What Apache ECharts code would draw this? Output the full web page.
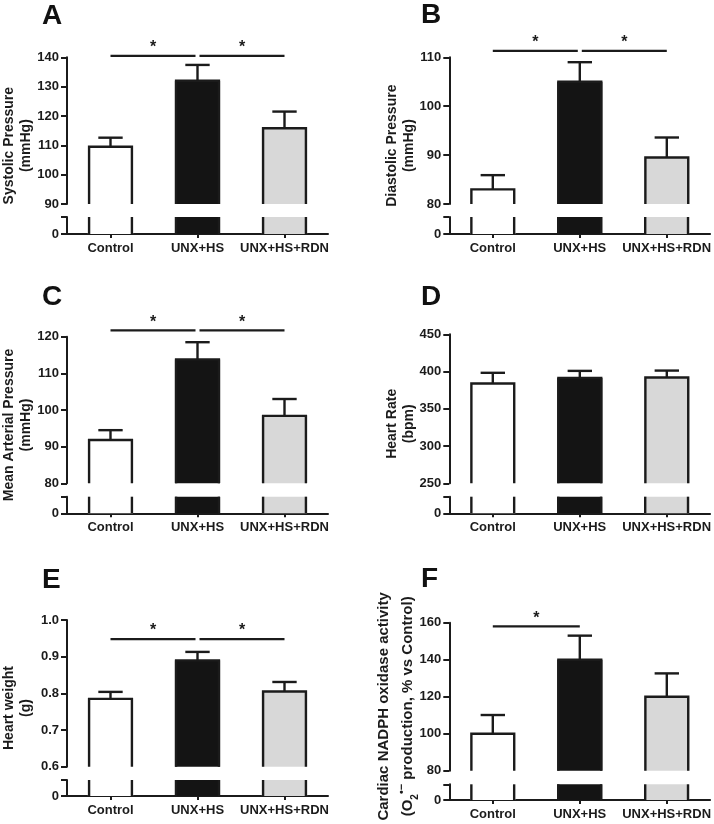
<!DOCTYPE html>
<html><head><meta charset="utf-8">
<script src="https://cdn.jsdelivr.net/npm/echarts@6/dist/echarts.min.js"></script>
<style>html,body{margin:0;padding:0;background:#fff}#c{width:714px;height:824px}</style>
</head><body><div id="c"></div>
<script>
// ---------------- data ----------------
const categories = ['Control', 'UNX+HS', 'UNX+HS+RDN'];

const systolicMean = [109.5, 132.0, 115.8];
const systolicSem  = [3.1, 5.4, 5.7];
const systolicTicks = [90, 100, 110, 120, 130, 140];
const systolicSig = [[0, 1, 140.5], [1, 2, 140.5]];

const diastolicMean = [83.0, 105.0, 89.5];
const diastolicSem  = [2.9, 4.0, 4.1];
const diastolicTicks = [80, 90, 100, 110];
const diastolicSig = [[0, 1, 111.3], [1, 2, 111.3]];

const mapMean = [91.8, 113.8, 98.4];
const mapSem  = [2.7, 4.7, 4.6];
const mapTicks = [80, 90, 100, 110, 120];
const mapSig = [[0, 1, 121.7], [1, 2, 121.7]];

const hrMean = [384, 391.5, 392];
const hrSem  = [14.3, 9.4, 9.3];
const hrTicks = [250, 300, 350, 400, 450];
const hrSig = [];

const hwMean = [0.785, 0.890, 0.805];
const hwSem  = [0.019, 0.023, 0.026];
const hwTicks = [0.6, 0.7, 0.8, 0.9, 1.0];
const hwSig = [[0, 1, 0.948], [1, 2, 0.948]];

const noxMean = [100, 140, 120];
const noxSem  = [10.1, 13.0, 12.6];
const noxTicks = [80, 100, 120, 140, 160];
const noxSig = [[0, 1, 158]];

const lowerTickLabel = 0;

// ---------------- styling / layout ----------------
const ink = '#1b1b1b';
const fills = ['#ffffff', '#141414', '#d8d8d8'];
const FONT = '"Liberation Sans", Arial, Helvetica, sans-serif';

const panels = [
  {letter: 'A', mean: systolicMean, sem: systolicSem, ticks: systolicTicks, sig: systolicSig, dec: 0,
   name: 'Systolic Pressure\n(mmHg)', ax: 67, top: 57.3, ub: 204, lt: 217, zero: 234, lx: 42, ly: 16.5, nx: 18},
  {letter: 'B', mean: diastolicMean, sem: diastolicSem, ticks: diastolicTicks, sig: diastolicSig, dec: 0,
   name: 'Diastolic Pressure\n(mmHg)', ax: 449.3, top: 57.3, ub: 204, lt: 217, zero: 234, lx: 421, ly: 15, nx: 401},
  {letter: 'C', mean: mapMean, sem: mapSem, ticks: mapTicks, sig: mapSig, dec: 0,
   name: 'Mean Arterial Pressure\n(mmHg)', ax: 67, top: 336.7, ub: 483.3, lt: 496.7, zero: 513.3, lx: 42, ly: 297, nx: 18},
  {letter: 'D', mean: hrMean, sem: hrSem, ticks: hrTicks, sig: hrSig, dec: 0,
   name: 'Heart Rate\n(bpm)', ax: 449.3, top: 334.3, ub: 483.3, lt: 496.7, zero: 513.3, lx: 421, ly: 297.5, nx: 401},
  {letter: 'E', mean: hwMean, sem: hwSem, ticks: hwTicks, sig: hwSig, dec: 1,
   name: 'Heart weight\n(g)', ax: 67, top: 620, ub: 766.7, lt: 780, zero: 796, lx: 42, ly: 580.5, nx: 18},
  {letter: 'F', mean: noxMean, sem: noxSem, ticks: noxTicks, sig: noxSig, dec: 0,
   name: null, ax: 449.3, top: 622.7, ub: 770.7, lt: 784.3, zero: 800, lx: 421, ly: 579, nx: 396}
];

const grid = [], xAxis = [], yAxis = [], series = [], graphic = [];
const lw = 2.4;

panels.forEach((p, k) => {
  const gu = 2 * k, gl = 2 * k + 1;
  const tmin = p.ticks[0], tmax = p.ticks[p.ticks.length - 1];
  const step = p.ticks[1] - p.ticks[0];
  grid.push({left: p.ax, top: p.top, width: 261, height: p.ub - p.top});
  grid.push({left: p.ax, top: p.lt, width: 261, height: p.zero - p.lt});

  xAxis.push({type: 'category', gridIndex: gu, data: categories, show: false});
  xAxis.push({type: 'category', gridIndex: gl, data: categories,
    axisLine: {show: true, lineStyle: {color: ink, width: 2}},
    axisTick: {show: true, alignWithLabel: true, length: 4, lineStyle: {color: ink, width: 2}},
    axisLabel: {interval: 0, hideOverlap: false, color: ink, fontWeight: 'bold', fontSize: 13, fontFamily: FONT, margin: 8}
  });

  yAxis.push({type: 'value', gridIndex: gu, min: tmin, max: tmax, interval: step,
    axisLine: {show: true, lineStyle: {color: ink, width: 2}},
    axisTick: {show: true, length: 6, lineStyle: {color: ink, width: 2}},
    splitLine: {show: false},
    axisLabel: {color: ink, fontWeight: 'bold', fontSize: 13, fontFamily: FONT, margin: 8,
      formatter: v => Number(v).toFixed(p.dec)}
  });
  yAxis.push({type: 'value', gridIndex: gl, min: 0, max: tmin, interval: tmin,
    axisLine: {show: true, lineStyle: {color: ink, width: 2}},
    axisTick: {show: true, length: 6, lineStyle: {color: ink, width: 2}},
    splitLine: {show: false},
    axisLabel: {color: ink, fontWeight: 'bold', fontSize: 13, fontFamily: FONT, margin: 8,
      formatter: v => (v === lowerTickLabel ? String(lowerTickLabel) : '')}
  });

  // upper bars with error bars
  series.push({
    type: 'custom', xAxisIndex: gu, yAxisIndex: gu, clip: false,
    data: p.mean.map((m, i) => [i, m, p.sem[i]]),
    encode: {x: 0, y: 1},
    renderItem: (params, api) => {
      const i = api.value(0), v = api.value(1), e = api.value(2);
      const top = api.coord([i, v]);
      const base = api.coord([i, tmin]);
      const err = api.coord([i, v + e]);
      const band = api.size([1, 0])[0];
      const hw = band * 0.26, cap = band * 0.14;
      const cx = top[0];
      const xl = cx - hw + lw / 2, xr = cx + hw - lw / 2;
      return {type: 'group', children: [
        {type: 'rect', shape: {x: cx - hw, y: top[1], width: hw * 2, height: base[1] - top[1]},
          style: {fill: fills[i]}},
        {type: 'polyline', shape: {points: [[xl, base[1]], [xl, top[1]], [xr, top[1]], [xr, base[1]]]},
          style: {stroke: ink, lineWidth: lw, fill: null}},
        {type: 'line', shape: {x1: cx, y1: top[1], x2: cx, y2: err[1]}, style: {stroke: ink, lineWidth: lw}},
        {type: 'line', shape: {x1: cx - cap, y1: err[1], x2: cx + cap, y2: err[1]}, style: {stroke: ink, lineWidth: lw}}
      ]};
    }
  });

  // lower (broken) bar parts
  series.push({
    type: 'custom', xAxisIndex: gl, yAxisIndex: gl, clip: false,
    data: p.mean.map((m, i) => [i, m]),
    encode: {x: 0, y: 1},
    renderItem: (params, api) => {
      const i = api.value(0), v = api.value(1);
      const top = api.coord([i, Math.min(v, tmin)]);
      const base = api.coord([i, 0]);
      const band = api.size([1, 0])[0];
      const hw = band * 0.26;
      const cx = top[0];
      const xl = cx - hw + lw / 2, xr = cx + hw - lw / 2;
      return {type: 'group', children: [
        {type: 'rect', shape: {x: cx - hw, y: top[1], width: hw * 2, height: base[1] - top[1]},
          style: {fill: fills[i]}},
        {type: 'line', shape: {x1: xl, y1: top[1], x2: xl, y2: base[1]}, style: {stroke: ink, lineWidth: lw}},
        {type: 'line', shape: {x1: xr, y1: top[1], x2: xr, y2: base[1]}, style: {stroke: ink, lineWidth: lw}}
      ]};
    }
  });

  // significance lines
  if (p.sig.length) {
    series.push({
      type: 'custom', xAxisIndex: gu, yAxisIndex: gu, clip: false,
      data: p.sig, encode: {x: 0, y: 2},
      renderItem: (params, api) => {
        const i = api.value(0), j = api.value(1), lv = api.value(2);
        const a = api.coord([i, lv]), b = api.coord([j, lv]);
        let x1 = a[0], x2 = b[0];
        if (p.sig.some(s => s[1] === i)) x1 += 2;
        if (p.sig.some(s => s[0] === j)) x2 -= 2;
        return {type: 'group', children: [
          {type: 'line', shape: {x1: x1, y1: a[1], x2: x2, y2: a[1]}, style: {stroke: ink, lineWidth: 2.2}},
          {type: 'text', x: (x1 + x2) / 2, y: a[1] - 8,
            style: {text: '*', fill: ink, font: 'bold 16px ' + FONT, align: 'center', verticalAlign: 'middle'}}
        ]};
      }
    });
  }

  // panel letter
  graphic.push({type: 'text', x: p.lx, y: p.ly,
    style: {text: p.letter, fill: '#111', font: 'bold 28px ' + FONT, align: 'left', verticalAlign: 'middle'}});

  // y-axis name
  const cy = (p.top + p.zero) / 2;
  if (p.name) {
    graphic.push({type: 'text', x: p.nx, y: cy, rotation: Math.PI / 2,
      style: {text: p.name, fill: ink, font: 'bold 14px ' + FONT, align: 'center', verticalAlign: 'middle', lineHeight: 17}});
  } else {
    graphic.push({type: 'text', x: p.nx, y: cy - 5, rotation: Math.PI / 2,
      style: {
        text: '{n|Cardiac NADPH oxidase activity}\n{n|(O}{sub|2}{sup|•−}{n| production, % vs Control)}',
        fill: ink, align: 'center', verticalAlign: 'middle',
        rich: {
          n: {font: 'bold 15px ' + FONT, fill: ink, lineHeight: 24},
          sub: {font: 'bold 10px ' + FONT, fill: ink, lineHeight: 15, verticalAlign: 'bottom'},
          sup: {font: 'bold 11px ' + FONT, fill: ink, lineHeight: 15, verticalAlign: 'top'}
        }
      }});
  }
});

const chart = echarts.init(document.getElementById('c'), null, {renderer: 'canvas'});
chart.setOption({
  animation: false,
  backgroundColor: '#ffffff',
  grid, xAxis, yAxis, series, graphic
});
</script>
</body></html>
